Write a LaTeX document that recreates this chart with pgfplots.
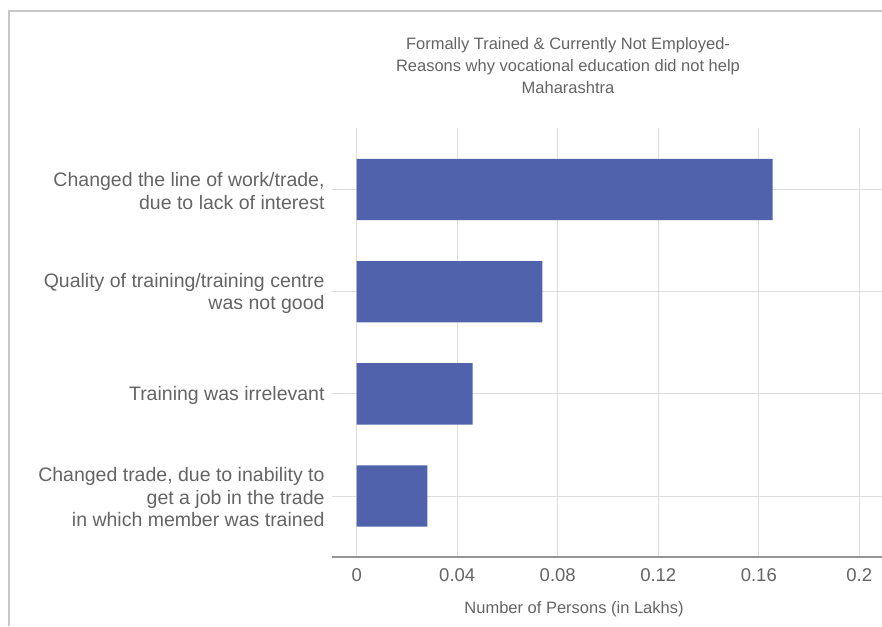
\documentclass[border=0pt]{standalone}
\usepackage{fontspec}
\setmainfont{Liberation Sans}
\usepackage{pgfplots}
\pgfplotsset{compat=1.18}
\definecolor{barblue}{RGB}{80,98,172}
\definecolor{txtgray}{RGB}{100,100,100}
\definecolor{gridgray}{RGB}{222,222,222}
\definecolor{axisgray}{RGB}{150,150,150}
\definecolor{framegray}{RGB}{200,200,200}

\begin{document}
\begin{tikzpicture}
  \useasboundingbox (0pt,0pt) rectangle (882pt,626pt);
  % frame of the scanned page
  \draw[framegray, line width=2pt] (8.5pt,0pt) -- (8.5pt,615pt) -- (882pt,615pt);
  \begin{axis}[
    at={(331.7pt,68.7pt)}, anchor=south west,
    scale only axis, width=550.3pt, height=429pt,
    xbar, bar width=0.6, bar shift=0pt,
    xmin=-0.00995, xmax=0.20903,
    ymin=-0.6, ymax=3.6, y dir=reverse,
    xtick={0,0.04,0.08,0.12,0.16,0.2},
    xticklabels={0,0.04,0.08,0.12,0.16,0.2},
    ytick={0,1,2,3},
    yticklabels={
      {Changed the line of work/trade,\\due to lack of interest},
      {Quality of training/training centre\\was not good},
      {Training was irrelevant},
      {Changed trade, due to inability to\\get a job in the trade\\in which member was trained}},
    major tick length=0pt,
    axis x line*=bottom, axis y line*=left,
    x axis line style={draw=axisgray, line width=2pt},
    y axis line style={draw=none},
    xmajorgrids, ymajorgrids,
    major grid style={gridgray, line width=1pt},
    /pgf/number format/assume math mode=true,
    xticklabel style={font=\fontsize{18.5}{22}\selectfont, text=txtgray, inner sep=0pt, anchor=north, yshift=-11pt},
    yticklabel style={font=\fontsize{19.5}{22.5}\selectfont, text=txtgray, align=right, inner sep=0pt, anchor=east, xshift=-7pt, yshift=-1.5pt},
    title={Formally Trained \& Currently Not Employed-\\Reasons why vocational education did not help\\Maharashtra},
    title style={font=\fontsize{16.5}{22}\selectfont, text=txtgray, align=center, anchor=center, at={(axis description cs:0.4294,1.1312)}},
    xlabel={Number of Persons (in Lakhs)},
    xlabel style={font=\fontsize{16.5}{22}\selectfont, text=txtgray, anchor=center, at={(axis description cs:0.4403,-0.122)}},
  ]
    \addplot[fill=barblue, draw=none] coordinates {
      (0.1655,0) (0.0739,1) (0.0461,2) (0.0281,3)};
  \end{axis}
\end{tikzpicture}
\end{document}
